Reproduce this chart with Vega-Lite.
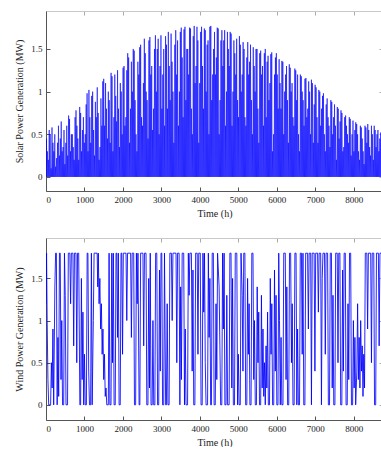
{
"$schema":"https://vega.github.io/schema/vega-lite/v6.json",
"padding":{"left":14,"top":10,"right":0,"bottom":0},
"background":"white",
"config":{"font":"Liberation Serif","view":{"stroke":null},
"axis":{"grid":false,"labelFont":"Liberation Serif","labelFontSize":9,"titleFont":"Liberation Serif","titleFontSize":10,"titleFontWeight":"normal","labelColor":"#222","titleColor":"#222","domainColor":"#555","tickColor":"#555","tickSize":-4,"labelPadding":8}},
"spacing":19,
"datasets":{
"solar":[
{"t":0,"v":0},{"t":12,"v":0.45},{"t":24,"v":0},{"t":36,"v":0.3},{"t":48,"v":0},{"t":60,"v":0.2},{"t":72,"v":0},{"t":84,"v":0.55},{"t":96,"v":0},{"t":108,"v":0.5},{"t":120,"v":0},{"t":132,"v":0.1},{"t":144,"v":0},{"t":156,"v":0.58},{"t":168,"v":0},{"t":180,"v":0.4},{"t":192,"v":0},{"t":204,"v":0.3},{"t":216,"v":0},{"t":228,"v":0.5},{"t":240,"v":0},{"t":252,"v":0.12},{"t":264,"v":0},{"t":276,"v":0.22},{"t":288,"v":0},{"t":300,"v":0.4},{"t":312,"v":0},{"t":324,"v":0.6},{"t":336,"v":0},{"t":348,"v":0.25},{"t":360,"v":0},{"t":372,"v":0.45},{"t":384,"v":0},{"t":396,"v":0.65},{"t":408,"v":0},{"t":420,"v":0.3},{"t":432,"v":0},{"t":444,"v":0.35},{"t":456,"v":0},{"t":468,"v":0.55},{"t":480,"v":0},{"t":492,"v":0.15},{"t":504,"v":0},{"t":516,"v":0.4},{"t":528,"v":0},{"t":540,"v":0.6},{"t":552,"v":0},{"t":564,"v":0.25},{"t":576,"v":0},{"t":588,"v":0.72},{"t":600,"v":0},{"t":612,"v":0.68},{"t":624,"v":0},{"t":636,"v":0.3},{"t":648,"v":0},{"t":660,"v":0.5},{"t":672,"v":0},{"t":684,"v":0.5},{"t":696,"v":0},{"t":708,"v":0.35},{"t":720,"v":0},{"t":732,"v":0.2},{"t":744,"v":0},{"t":756,"v":0.7},{"t":768,"v":0},{"t":780,"v":0.78},{"t":792,"v":0},{"t":804,"v":0.6},{"t":816,"v":0},{"t":828,"v":0.45},{"t":840,"v":0},{"t":852,"v":0.2},{"t":864,"v":0},{"t":876,"v":0.82},{"t":888,"v":0},{"t":900,"v":0.75},{"t":912,"v":0},{"t":924,"v":0.3},{"t":936,"v":0},{"t":948,"v":0.55},{"t":960,"v":0},{"t":972,"v":0.7},{"t":984,"v":0},{"t":996,"v":0.4},
{"t":1008,"v":0},{"t":1020,"v":0.5},{"t":1032,"v":0},{"t":1044,"v":0.85},{"t":1056,"v":0},{"t":1068,"v":0.98},{"t":1080,"v":0},{"t":1092,"v":0.3},{"t":1104,"v":0},{"t":1116,"v":1.02},{"t":1128,"v":0},{"t":1140,"v":0.7},{"t":1152,"v":0},{"t":1164,"v":0.4},{"t":1176,"v":0},{"t":1188,"v":0.95},{"t":1200,"v":0},{"t":1212,"v":1.0},{"t":1224,"v":0},{"t":1236,"v":0.55},{"t":1248,"v":0},{"t":1260,"v":0.25},{"t":1272,"v":0},{"t":1284,"v":0.88},{"t":1296,"v":0},{"t":1308,"v":0.7},{"t":1320,"v":0},{"t":1332,"v":1.05},{"t":1344,"v":0},{"t":1356,"v":0.75},{"t":1368,"v":0},{"t":1380,"v":0.2},{"t":1392,"v":0},{"t":1404,"v":0.35},{"t":1416,"v":0},{"t":1428,"v":0.92},{"t":1440,"v":0},{"t":1452,"v":0.6},{"t":1464,"v":0},{"t":1476,"v":1.12},{"t":1488,"v":0},{"t":1500,"v":1.15},{"t":1512,"v":0},{"t":1524,"v":0.6},{"t":1536,"v":0},{"t":1548,"v":1.1},{"t":1560,"v":0},{"t":1572,"v":0.8},{"t":1584,"v":0},{"t":1596,"v":0.45},{"t":1608,"v":0},{"t":1620,"v":1.0},{"t":1632,"v":0},{"t":1644,"v":0.9},{"t":1656,"v":0},{"t":1668,"v":0.4},{"t":1680,"v":0},{"t":1692,"v":1.22},{"t":1704,"v":0},{"t":1716,"v":1.18},{"t":1728,"v":0},{"t":1740,"v":0.3},{"t":1752,"v":0},{"t":1764,"v":0.7},{"t":1776,"v":0},{"t":1788,"v":1.2},{"t":1800,"v":0},{"t":1812,"v":0.95},{"t":1824,"v":0},{"t":1836,"v":0.65},{"t":1848,"v":0},{"t":1860,"v":1.25},{"t":1872,"v":0},{"t":1884,"v":0.8},{"t":1896,"v":0},{"t":1908,"v":0.35},{"t":1920,"v":0},{"t":1932,"v":1.1},{"t":1944,"v":0},{"t":1956,"v":1.0},{"t":1968,"v":0},{"t":1980,"v":0.5},{"t":1992,"v":0},{"t":2004,"v":1.28},
{"t":2016,"v":0},{"t":2028,"v":1.3},{"t":2040,"v":0},{"t":2052,"v":0.6},{"t":2064,"v":0},{"t":2076,"v":0.7},{"t":2088,"v":0},{"t":2100,"v":1.25},{"t":2112,"v":0},{"t":2124,"v":1.45},{"t":2136,"v":0},{"t":2148,"v":1.4},{"t":2160,"v":0},{"t":2172,"v":0.4},{"t":2184,"v":0},{"t":2196,"v":0.8},{"t":2208,"v":0},{"t":2220,"v":1.35},{"t":2232,"v":0},{"t":2244,"v":1.0},{"t":2256,"v":0},{"t":2268,"v":1.5},{"t":2280,"v":0},{"t":2292,"v":1.48},{"t":2304,"v":0},{"t":2316,"v":0.9},{"t":2328,"v":0},{"t":2340,"v":0.5},{"t":2352,"v":0},{"t":2364,"v":0.3},{"t":2376,"v":0},{"t":2388,"v":1.35},{"t":2400,"v":0},{"t":2412,"v":1.2},{"t":2424,"v":0},{"t":2436,"v":1.52},{"t":2448,"v":0},{"t":2460,"v":1.55},{"t":2472,"v":0},{"t":2484,"v":0.7},{"t":2496,"v":0},{"t":2508,"v":0.6},{"t":2520,"v":0},{"t":2532,"v":1.1},{"t":2544,"v":0},{"t":2556,"v":1.62},{"t":2568,"v":0},{"t":2580,"v":1.45},{"t":2592,"v":0},{"t":2604,"v":1.0},{"t":2616,"v":0},{"t":2628,"v":0.9},{"t":2640,"v":0},{"t":2652,"v":0.45},{"t":2664,"v":0},{"t":2676,"v":1.6},{"t":2688,"v":0},{"t":2700,"v":1.64},{"t":2712,"v":0},{"t":2724,"v":1.2},{"t":2736,"v":0},{"t":2748,"v":1.3},{"t":2760,"v":0},{"t":2772,"v":0.55},{"t":2784,"v":0},{"t":2796,"v":0.8},{"t":2808,"v":0},{"t":2820,"v":1.5},{"t":2832,"v":0},{"t":2844,"v":1.66},{"t":2856,"v":0},{"t":2868,"v":1.0},{"t":2880,"v":0},{"t":2892,"v":1.5},{"t":2904,"v":0},{"t":2916,"v":1.62},{"t":2928,"v":0},{"t":2940,"v":0.5},{"t":2952,"v":0},{"t":2964,"v":1.3},{"t":2976,"v":0},{"t":2988,"v":1.66},{"t":3000,"v":0},{"t":3012,"v":0.8},
{"t":3024,"v":0},{"t":3036,"v":1.2},{"t":3048,"v":0},{"t":3060,"v":1.5},{"t":3072,"v":0},{"t":3084,"v":0.6},{"t":3096,"v":0},{"t":3108,"v":1.65},{"t":3120,"v":0},{"t":3132,"v":1.55},{"t":3144,"v":0},{"t":3156,"v":0.8},{"t":3168,"v":0},{"t":3180,"v":1.7},{"t":3192,"v":0},{"t":3204,"v":1.3},{"t":3216,"v":0},{"t":3228,"v":0.9},{"t":3240,"v":0},{"t":3252,"v":1.68},{"t":3264,"v":0},{"t":3276,"v":1.35},{"t":3288,"v":0},{"t":3300,"v":1.0},{"t":3312,"v":0},{"t":3324,"v":0.4},{"t":3336,"v":0},{"t":3348,"v":1.55},{"t":3360,"v":0},{"t":3372,"v":1.72},{"t":3384,"v":0},{"t":3396,"v":1.2},{"t":3408,"v":0},{"t":3420,"v":1.6},{"t":3432,"v":0},{"t":3444,"v":0.6},{"t":3456,"v":0},{"t":3468,"v":1.0},{"t":3480,"v":0},{"t":3492,"v":1.7},{"t":3504,"v":0},{"t":3516,"v":1.75},{"t":3528,"v":0},{"t":3540,"v":1.4},{"t":3552,"v":0},{"t":3564,"v":0.7},{"t":3576,"v":0},{"t":3588,"v":1.73},{"t":3600,"v":0},{"t":3612,"v":1.76},{"t":3624,"v":0},{"t":3636,"v":0.9},{"t":3648,"v":0},{"t":3660,"v":1.5},{"t":3672,"v":0},{"t":3684,"v":1.5},{"t":3696,"v":0},{"t":3708,"v":1.2},{"t":3720,"v":0},{"t":3732,"v":1.75},{"t":3744,"v":0},{"t":3756,"v":1.74},{"t":3768,"v":0},{"t":3780,"v":0.8},{"t":3792,"v":0},{"t":3804,"v":0.5},{"t":3816,"v":0},{"t":3828,"v":1.65},{"t":3840,"v":0},{"t":3852,"v":1.77},{"t":3864,"v":0},{"t":3876,"v":1.1},{"t":3888,"v":0},{"t":3900,"v":1.3},{"t":3912,"v":0},{"t":3924,"v":1.76},{"t":3936,"v":0},{"t":3948,"v":1.6},{"t":3960,"v":0},{"t":3972,"v":0.4},{"t":3984,"v":0},{"t":3996,"v":1.1},{"t":4008,"v":0},{"t":4020,"v":1.7},
{"t":4032,"v":0},{"t":4044,"v":1.76},{"t":4056,"v":0},{"t":4068,"v":1.3},{"t":4080,"v":0},{"t":4092,"v":0.8},{"t":4104,"v":0},{"t":4116,"v":1.74},{"t":4128,"v":0},{"t":4140,"v":1.72},{"t":4152,"v":0},{"t":4164,"v":1.0},{"t":4176,"v":0},{"t":4188,"v":1.55},{"t":4200,"v":0},{"t":4212,"v":1.6},{"t":4224,"v":0},{"t":4236,"v":0.5},{"t":4248,"v":0},{"t":4260,"v":1.76},{"t":4272,"v":0},{"t":4284,"v":1.77},{"t":4296,"v":0},{"t":4308,"v":0.9},{"t":4320,"v":0},{"t":4332,"v":1.2},{"t":4344,"v":0},{"t":4356,"v":1.5},{"t":4368,"v":0},{"t":4380,"v":1.7},{"t":4392,"v":0},{"t":4404,"v":1.2},{"t":4416,"v":0},{"t":4428,"v":1.4},{"t":4440,"v":0},{"t":4452,"v":1.75},{"t":4464,"v":0},{"t":4476,"v":1.74},{"t":4488,"v":0},{"t":4500,"v":0.5},{"t":4512,"v":0},{"t":4524,"v":0.9},{"t":4536,"v":0},{"t":4548,"v":1.6},{"t":4560,"v":0},{"t":4572,"v":1.72},{"t":4584,"v":0},{"t":4596,"v":1.3},{"t":4608,"v":0},{"t":4620,"v":1.6},{"t":4632,"v":0},{"t":4644,"v":1.72},{"t":4656,"v":0},{"t":4668,"v":0.6},{"t":4680,"v":0},{"t":4692,"v":1.0},{"t":4704,"v":0},{"t":4716,"v":1.7},{"t":4728,"v":0},{"t":4740,"v":1.5},{"t":4752,"v":0},{"t":4764,"v":1.3},{"t":4776,"v":0},{"t":4788,"v":1.7},{"t":4800,"v":0},{"t":4812,"v":1.68},{"t":4824,"v":0},{"t":4836,"v":0.6},{"t":4848,"v":0},{"t":4860,"v":1.0},{"t":4872,"v":0},{"t":4884,"v":1.6},{"t":4896,"v":0},{"t":4908,"v":1.45},{"t":4920,"v":0},{"t":4932,"v":1.2},{"t":4944,"v":0},{"t":4956,"v":1.62},{"t":4968,"v":0},{"t":4980,"v":0.9},{"t":4992,"v":0},{"t":5004,"v":0.7},{"t":5016,"v":0},{"t":5028,"v":1.65},
{"t":5040,"v":0},{"t":5052,"v":1.55},{"t":5064,"v":0},{"t":5076,"v":1.0},{"t":5088,"v":0},{"t":5100,"v":1.2},{"t":5112,"v":0},{"t":5124,"v":1.58},{"t":5136,"v":0},{"t":5148,"v":1.5},{"t":5160,"v":0},{"t":5172,"v":0.7},{"t":5184,"v":0},{"t":5196,"v":0.6},{"t":5208,"v":0},{"t":5220,"v":1.4},{"t":5232,"v":0},{"t":5244,"v":1.58},{"t":5256,"v":0},{"t":5268,"v":1.2},{"t":5280,"v":0},{"t":5292,"v":1.35},{"t":5304,"v":0},{"t":5316,"v":1.55},{"t":5328,"v":0},{"t":5340,"v":0.9},{"t":5352,"v":0},{"t":5364,"v":0.5},{"t":5376,"v":0},{"t":5388,"v":1.52},{"t":5400,"v":0},{"t":5412,"v":1.3},{"t":5424,"v":0},{"t":5436,"v":1.0},{"t":5448,"v":0},{"t":5460,"v":1.5},{"t":5472,"v":0},{"t":5484,"v":1.5},{"t":5496,"v":0},{"t":5508,"v":0.8},{"t":5520,"v":0},{"t":5532,"v":0.4},{"t":5544,"v":0},{"t":5556,"v":1.45},{"t":5568,"v":0},{"t":5580,"v":1.48},{"t":5592,"v":0},{"t":5604,"v":1.2},{"t":5616,"v":0},{"t":5628,"v":1.3},{"t":5640,"v":0},{"t":5652,"v":0.6},{"t":5664,"v":0},{"t":5676,"v":1.45},{"t":5688,"v":0},{"t":5700,"v":1.5},{"t":5712,"v":0},{"t":5724,"v":0.7},{"t":5736,"v":0},{"t":5748,"v":1.35},{"t":5760,"v":0},{"t":5772,"v":1.42},{"t":5784,"v":0},{"t":5796,"v":0.9},{"t":5808,"v":0},{"t":5820,"v":1.1},{"t":5832,"v":0},{"t":5844,"v":1.44},{"t":5856,"v":0},{"t":5868,"v":1.46},{"t":5880,"v":0},{"t":5892,"v":0.3},{"t":5904,"v":0},{"t":5916,"v":0.5},{"t":5928,"v":0},{"t":5940,"v":1.2},{"t":5952,"v":0},{"t":5964,"v":1.4},{"t":5976,"v":0},{"t":5988,"v":1.45},{"t":6000,"v":0},{"t":6012,"v":1.2},{"t":6024,"v":0},{"t":6036,"v":0.8},
{"t":6048,"v":0},{"t":6060,"v":1.38},{"t":6072,"v":0},{"t":6084,"v":1.1},{"t":6096,"v":0},{"t":6108,"v":0.8},{"t":6120,"v":0},{"t":6132,"v":1.36},{"t":6144,"v":0},{"t":6156,"v":1.35},{"t":6168,"v":0},{"t":6180,"v":0.5},{"t":6192,"v":0},{"t":6204,"v":1.0},{"t":6216,"v":0},{"t":6228,"v":1.2},{"t":6240,"v":0},{"t":6252,"v":1.3},{"t":6264,"v":0},{"t":6276,"v":0.9},{"t":6288,"v":0},{"t":6300,"v":0.4},{"t":6312,"v":0},{"t":6324,"v":1.32},{"t":6336,"v":0},{"t":6348,"v":1.28},{"t":6360,"v":0},{"t":6372,"v":1.0},{"t":6384,"v":0},{"t":6396,"v":1.1},{"t":6408,"v":0},{"t":6420,"v":0.7},{"t":6432,"v":0},{"t":6444,"v":0.6},{"t":6456,"v":0},{"t":6468,"v":1.27},{"t":6480,"v":0},{"t":6492,"v":1.25},{"t":6504,"v":0},{"t":6516,"v":0.9},{"t":6528,"v":0},{"t":6540,"v":1.2},{"t":6552,"v":0},{"t":6564,"v":0.5},{"t":6576,"v":0},{"t":6588,"v":0.3},{"t":6600,"v":0},{"t":6612,"v":1.2},{"t":6624,"v":0},{"t":6636,"v":1.18},{"t":6648,"v":0},{"t":6660,"v":1.0},{"t":6672,"v":0},{"t":6684,"v":0.9},{"t":6696,"v":0},{"t":6708,"v":0.6},{"t":6720,"v":0},{"t":6732,"v":1.15},{"t":6744,"v":0},{"t":6756,"v":1.16},{"t":6768,"v":0},{"t":6780,"v":0.7},{"t":6792,"v":0},{"t":6804,"v":0.8},{"t":6816,"v":0},{"t":6828,"v":1.12},{"t":6840,"v":0},{"t":6852,"v":1.0},{"t":6864,"v":0},{"t":6876,"v":0.5},{"t":6888,"v":0},{"t":6900,"v":1.14},{"t":6912,"v":0},{"t":6924,"v":1.1},{"t":6936,"v":0},{"t":6948,"v":0.4},{"t":6960,"v":0},{"t":6972,"v":0.85},{"t":6984,"v":0},{"t":6996,"v":1.08},{"t":7008,"v":0},{"t":7020,"v":1.05},{"t":7032,"v":0},{"t":7044,"v":0.7},
{"t":7056,"v":0},{"t":7068,"v":0.4},{"t":7080,"v":0},{"t":7092,"v":1.02},{"t":7104,"v":0},{"t":7116,"v":1.0},{"t":7128,"v":0},{"t":7140,"v":0.6},{"t":7152,"v":0},{"t":7164,"v":0.8},{"t":7176,"v":0},{"t":7188,"v":0.95},{"t":7200,"v":0},{"t":7212,"v":0.98},{"t":7224,"v":0},{"t":7236,"v":0.5},{"t":7248,"v":0},{"t":7260,"v":0.3},{"t":7272,"v":0},{"t":7284,"v":0.85},{"t":7296,"v":0},{"t":7308,"v":0.92},{"t":7320,"v":0},{"t":7332,"v":0.7},{"t":7344,"v":0},{"t":7356,"v":0.6},{"t":7368,"v":0},{"t":7380,"v":0.35},{"t":7392,"v":0},{"t":7404,"v":0.9},{"t":7416,"v":0},{"t":7428,"v":0.88},{"t":7440,"v":0},{"t":7452,"v":0.5},{"t":7464,"v":0},{"t":7476,"v":0.7},{"t":7488,"v":0},{"t":7500,"v":0.85},{"t":7512,"v":0},{"t":7524,"v":0.6},{"t":7536,"v":0},{"t":7548,"v":0.2},{"t":7560,"v":0},{"t":7572,"v":0.82},{"t":7584,"v":0},{"t":7596,"v":0.8},{"t":7608,"v":0},{"t":7620,"v":0.45},{"t":7632,"v":0},{"t":7644,"v":0.65},{"t":7656,"v":0},{"t":7668,"v":0.78},{"t":7680,"v":0},{"t":7692,"v":0.75},{"t":7704,"v":0},{"t":7716,"v":0.3},{"t":7728,"v":0},{"t":7740,"v":0.35},{"t":7752,"v":0},{"t":7764,"v":0.7},{"t":7776,"v":0},{"t":7788,"v":0.72},{"t":7800,"v":0},{"t":7812,"v":0.6},{"t":7824,"v":0},{"t":7836,"v":0.5},{"t":7848,"v":0},{"t":7860,"v":0.4},{"t":7872,"v":0},{"t":7884,"v":0.7},{"t":7896,"v":0},{"t":7908,"v":0.68},{"t":7920,"v":0},{"t":7932,"v":0.25},{"t":7944,"v":0},{"t":7956,"v":0.5},{"t":7968,"v":0},{"t":7980,"v":0.66},{"t":7992,"v":0},{"t":8004,"v":0.3},{"t":8016,"v":0},{"t":8028,"v":0.55},{"t":8040,"v":0},{"t":8052,"v":0.64},
{"t":8064,"v":0},{"t":8076,"v":0.62},{"t":8088,"v":0},{"t":8100,"v":0.5},{"t":8112,"v":0},{"t":8124,"v":0.3},{"t":8136,"v":0},{"t":8148,"v":0.2},{"t":8160,"v":0},{"t":8172,"v":0.6},{"t":8184,"v":0},{"t":8196,"v":0.58},{"t":8208,"v":0},{"t":8220,"v":0.45},{"t":8232,"v":0},{"t":8244,"v":0.3},{"t":8256,"v":0},{"t":8268,"v":0.15},{"t":8280,"v":0},{"t":8292,"v":0.6},{"t":8304,"v":0},{"t":8316,"v":0.58},{"t":8328,"v":0},{"t":8340,"v":0.4},{"t":8352,"v":0},{"t":8364,"v":0.62},{"t":8376,"v":0},{"t":8388,"v":0.55},{"t":8400,"v":0},{"t":8412,"v":0.35},{"t":8424,"v":0},{"t":8436,"v":0.25},{"t":8448,"v":0},{"t":8460,"v":0.6},{"t":8472,"v":0},{"t":8484,"v":0.5},{"t":8496,"v":0},{"t":8508,"v":0.2},{"t":8520,"v":0},{"t":8532,"v":0.6},{"t":8544,"v":0},{"t":8556,"v":0.55},{"t":8568,"v":0},{"t":8580,"v":0.35},{"t":8592,"v":0},{"t":8604,"v":0.5},{"t":8616,"v":0},{"t":8628,"v":0.55},{"t":8640,"v":0},{"t":8652,"v":0.3},{"t":8664,"v":0},{"t":8676,"v":0.45},{"t":8688,"v":0},{"t":8700,"v":0.52},{"t":8712,"v":0},{"t":8724,"v":0.58},{"t":8736,"v":0},{"t":8748,"v":0.4},{"t":8760,"v":0}],
"wind":[{"t":0,"v":1.2},{"t":15,"v":1.8},{"t":30,"v":1.0},{"t":50,"v":0.3},{"t":70,"v":0},{"t":120,"v":0},{"t":140,"v":0.5},{"t":160,"v":0.2},{"t":180,"v":0.9},{"t":200,"v":0},{"t":230,"v":1.4},{"t":250,"v":1.8},{"t":270,"v":1.8},{"t":290,"v":0},{"t":310,"v":0.8},{"t":330,"v":0.1},{"t":350,"v":1.8},{"t":370,"v":1.8},{"t":390,"v":0.3},{"t":410,"v":1.0},{"t":430,"v":0},{"t":460,"v":0},{"t":480,"v":1.8},{"t":500,"v":1.3},{"t":520,"v":0},{"t":560,"v":0},{"t":580,"v":1.8},{"t":620,"v":1.8},{"t":640,"v":1.2},{"t":660,"v":1.8},{"t":700,"v":1.8},{"t":720,"v":0.7},{"t":740,"v":1.8},{"t":780,"v":1.8},{"t":800,"v":0.5},{"t":820,"v":1.8},{"t":850,"v":1.8},{"t":880,"v":0},{"t":900,"v":0},{"t":920,"v":1.5},{"t":940,"v":0.3},{"t":960,"v":1.1},{"t":980,"v":0},{"t":1000,"v":0.6},{"t":1020,"v":0},{"t":1050,"v":0},{"t":1070,"v":1.8},{"t":1090,"v":1.8},{"t":1110,"v":0.4},{"t":1130,"v":0},{"t":1160,"v":0},{"t":1180,"v":1.8},{"t":1200,"v":0},{"t":1230,"v":1.0},{"t":1250,"v":1.8},{"t":1330,"v":1.8},{"t":1345,"v":1.4},{"t":1360,"v":1.8},{"t":1380,"v":1.2},{"t":1400,"v":1.5},{"t":1420,"v":0.9},{"t":1440,"v":1.2},{"t":1460,"v":0.6},{"t":1480,"v":0.9},{"t":1500,"v":0.3},{"t":1520,"v":0.6},{"t":1540,"v":0.1},{"t":1560,"v":0.2},{"t":1580,"v":0},{"t":1620,"v":0},{"t":1640,"v":1.8},{"t":1660,"v":0},{"t":1690,"v":0},{"t":1710,"v":1.8},{"t":1730,"v":0.5},{"t":1750,"v":1.8},{"t":1770,"v":0},{"t":1800,"v":0},{"t":1820,"v":1.8},{"t":1840,"v":1.8},{"t":1860,"v":0.8},{"t":1880,"v":1.8},{"t":1900,"v":0},{"t":1930,"v":0},{"t":1950,"v":1.8},{"t":1970,"v":1.8},{"t":1990,"v":0.6},{"t":2010,"v":1.8},{"t":2080,"v":1.8},{"t":2100,"v":1.0},{"t":2120,"v":1.8},{"t":2200,"v":1.8},{"t":2220,"v":0.8},{"t":2240,"v":1.8},{"t":2280,"v":1.8},{"t":2300,"v":0},{"t":2330,"v":0},{"t":2350,"v":1.8},{"t":2370,"v":1.2},{"t":2390,"v":1.8},{"t":2420,"v":0},{"t":2440,"v":0},{"t":2460,"v":1.8},{"t":2520,"v":1.8},{"t":2540,"v":0.7},{"t":2560,"v":1.8},{"t":2600,"v":1.8},{"t":2620,"v":0},{"t":2650,"v":0},{"t":2670,"v":1.5},{"t":2690,"v":0.2},{"t":2710,"v":1.8},{"t":2730,"v":0},{"t":2760,"v":0},{"t":2780,"v":1.0},{"t":2800,"v":0},{"t":2830,"v":0},{"t":2850,"v":1.8},{"t":2880,"v":1.8},{"t":2900,"v":0},{"t":2930,"v":0},{"t":2950,"v":1.6},{"t":2970,"v":0.4},{"t":2990,"v":1.8},{"t":3010,"v":1.8},{"t":3030,"v":0},{"t":3060,"v":0},{"t":3080,"v":1.8},{"t":3110,"v":0},{"t":3130,"v":0},{"t":3150,"v":1.2},{"t":3170,"v":0},{"t":3200,"v":0},{"t":3220,"v":1.8},{"t":3260,"v":1.8},{"t":3280,"v":1.0},{"t":3300,"v":1.8},{"t":3380,"v":1.8},{"t":3400,"v":0.5},{"t":3420,"v":1.8},{"t":3460,"v":1.8},{"t":3480,"v":0},{"t":3500,"v":1.4},{"t":3520,"v":0.3},{"t":3540,"v":1.8},{"t":3580,"v":1.8},{"t":3600,"v":0},{"t":3620,"v":0.9},{"t":3640,"v":0},{"t":3680,"v":0},{"t":3700,"v":1.8},{"t":3720,"v":1.3},{"t":3740,"v":1.8},{"t":3780,"v":1.8},{"t":3800,"v":0.4},{"t":3820,"v":1.6},{"t":3840,"v":0},{"t":3870,"v":0},{"t":3890,"v":1.8},{"t":3930,"v":1.8},{"t":3950,"v":0.6},{"t":3970,"v":1.8},{"t":4010,"v":1.8},{"t":4030,"v":0},{"t":4060,"v":0},{"t":4080,"v":1.8},{"t":4100,"v":1.1},{"t":4120,"v":1.8},{"t":4140,"v":0.5},{"t":4160,"v":0},{"t":4200,"v":0},{"t":4220,"v":1.8},{"t":4240,"v":0.8},{"t":4260,"v":1.5},{"t":4280,"v":0},{"t":4300,"v":0},{"t":4320,"v":1.8},{"t":4350,"v":1.8},{"t":4370,"v":0},{"t":4400,"v":0},{"t":4420,"v":1.2},{"t":4440,"v":0.3},{"t":4460,"v":1.8},{"t":4500,"v":1.4},{"t":4520,"v":0.7},{"t":4540,"v":0},{"t":4570,"v":0},{"t":4590,"v":1.8},{"t":4610,"v":0.9},{"t":4630,"v":1.8},{"t":4650,"v":0},{"t":4680,"v":0},{"t":4700,"v":1.3},{"t":4720,"v":0},{"t":4760,"v":0},{"t":4780,"v":1.8},{"t":4810,"v":1.8},{"t":4830,"v":0.2},{"t":4850,"v":1.5},{"t":4870,"v":0},{"t":4900,"v":0},{"t":4920,"v":1.8},{"t":4960,"v":1.8},{"t":4980,"v":0},{"t":5000,"v":0.6},{"t":5020,"v":0},{"t":5050,"v":0},{"t":5070,"v":1.8},{"t":5100,"v":1.3},{"t":5120,"v":0.4},{"t":5140,"v":1.8},{"t":5170,"v":1.8},{"t":5190,"v":0},{"t":5220,"v":0},{"t":5240,"v":1.5},{"t":5260,"v":0.6},{"t":5280,"v":1.2},{"t":5300,"v":0},{"t":5330,"v":0},{"t":5350,"v":1.8},{"t":5380,"v":1.8},{"t":5400,"v":0.3},{"t":5420,"v":1.0},{"t":5440,"v":0},{"t":5470,"v":0},{"t":5490,"v":1.4},{"t":5510,"v":0.5},{"t":5530,"v":1.1},{"t":5550,"v":0},{"t":5580,"v":0},{"t":5600,"v":1.3},{"t":5620,"v":0.2},{"t":5640,"v":0.9},{"t":5660,"v":0.1},{"t":5680,"v":0.5},{"t":5700,"v":0},{"t":5720,"v":0.7},{"t":5740,"v":0.2},{"t":5760,"v":1.1},{"t":5780,"v":0},{"t":5810,"v":0},{"t":5830,"v":1.5},{"t":5850,"v":0.6},{"t":5870,"v":1.2},{"t":5890,"v":0},{"t":5920,"v":0},{"t":5940,"v":1.6},{"t":5960,"v":0.4},{"t":5980,"v":1.3},{"t":6000,"v":0},{"t":6030,"v":0},{"t":6050,"v":1.8},{"t":6070,"v":1.0},{"t":6090,"v":0},{"t":6110,"v":0.8},{"t":6130,"v":0},{"t":6160,"v":0},{"t":6180,"v":1.8},{"t":6220,"v":1.8},{"t":6240,"v":0.3},{"t":6260,"v":1.4},{"t":6280,"v":0},{"t":6310,"v":0},{"t":6330,"v":1.8},{"t":6360,"v":1.8},{"t":6380,"v":0.5},{"t":6400,"v":1.2},{"t":6420,"v":0},{"t":6450,"v":0},{"t":6470,"v":1.8},{"t":6500,"v":1.8},{"t":6520,"v":0},{"t":6540,"v":0.9},{"t":6560,"v":0},{"t":6590,"v":0},{"t":6610,"v":1.8},{"t":6640,"v":1.8},{"t":6660,"v":0.6},{"t":6680,"v":1.8},{"t":6700,"v":0},{"t":6730,"v":0},{"t":6750,"v":1.8},{"t":6800,"v":1.8},{"t":6820,"v":0.9},{"t":6840,"v":1.8},{"t":6880,"v":1.8},{"t":6900,"v":0},{"t":6920,"v":1.8},{"t":6970,"v":1.8},{"t":6990,"v":0.4},{"t":7010,"v":1.8},{"t":7060,"v":1.8},{"t":7080,"v":1.1},{"t":7100,"v":1.8},{"t":7140,"v":1.8},{"t":7160,"v":0},{"t":7180,"v":1.5},{"t":7200,"v":1.8},{"t":7240,"v":1.8},{"t":7260,"v":0.6},{"t":7280,"v":1.8},{"t":7320,"v":1.8},{"t":7340,"v":0},{"t":7370,"v":0},{"t":7390,"v":1.8},{"t":7420,"v":1.8},{"t":7440,"v":0.2},{"t":7460,"v":1.3},{"t":7480,"v":0},{"t":7510,"v":0},{"t":7530,"v":1.8},{"t":7570,"v":1.8},{"t":7590,"v":0.5},{"t":7610,"v":1.8},{"t":7640,"v":1.8},{"t":7660,"v":0},{"t":7690,"v":0},{"t":7710,"v":1.6},{"t":7730,"v":0.4},{"t":7750,"v":1.8},{"t":7780,"v":1.8},{"t":7800,"v":0},{"t":7830,"v":0},{"t":7850,"v":1.2},{"t":7870,"v":0.3},{"t":7890,"v":1.8},{"t":7920,"v":1.8},{"t":7940,"v":0},{"t":7970,"v":0},{"t":7990,"v":1.0},{"t":8010,"v":0.2},{"t":8030,"v":0.8},{"t":8050,"v":0},{"t":8080,"v":0.4},{"t":8100,"v":1.2},{"t":8120,"v":0.3},{"t":8140,"v":0.8},{"t":8160,"v":0.2},{"t":8180,"v":1.0},{"t":8200,"v":0.4},{"t":8220,"v":0.7},{"t":8240,"v":0.1},{"t":8260,"v":0.6},{"t":8280,"v":0.2},{"t":8300,"v":1.8},{"t":8340,"v":1.8},{"t":8360,"v":0.9},{"t":8380,"v":1.8},{"t":8440,"v":1.8},{"t":8460,"v":0.5},{"t":8480,"v":1.8},{"t":8520,"v":1.8},{"t":8540,"v":0},{"t":8570,"v":0},{"t":8590,"v":1.8},{"t":8640,"v":1.8},{"t":8660,"v":0.7},{"t":8680,"v":1.8},{"t":8720,"v":1.8},{"t":8740,"v":1.2},{"t":8760,"v":1.8}]
},
"vconcat":[
{"width":337,"height":180,
"layer":[
{"data":{"name":"solar"},"mark":{"type":"line","color":"#0000ff","strokeWidth":0.6,"clip":true},
"encoding":{"x":{"field":"t","type":"quantitative","scale":{"domain":[0,8760],"nice":false},"axis":{"values":[0,1000,2000,3000,4000,5000,6000,7000,8000],"format":"d","title":"Time (h)","titlePadding":4}},
"y":{"field":"v","type":"quantitative","scale":{"domain":[-0.165,1.945],"nice":false,"zero":false},"axis":{"values":[0,0.5,1,1.5],"format":"~g","title":"Solar Power Generation (MW)","titlePadding":6}}}},
{"data":{"values":[{"t":0,"v":0}]},"mark":{"type":"point","opacity":0},
"encoding":{"x":{"field":"t","type":"quantitative","axis":{"orient":"top","values":[0,1000,2000,3000,4000,5000,6000,7000,8000],"labels":false,"title":null,"domainColor":"#c8c8c8","tickColor":"#aaa"}},
"y":{"field":"v","type":"quantitative","axis":{"orient":"right","values":[0,0.5,1,1.5],"labels":false,"title":null,"domainColor":"#c8c8c8","tickColor":"#aaa"}}}}
],
"resolve":{"axis":{"x":"independent","y":"independent"}}},
{"width":337,"height":182,
"layer":[
{"data":{"name":"wind"},"mark":{"type":"line","color":"#0000ff","strokeWidth":0.85,"clip":true},
"encoding":{"x":{"field":"t","type":"quantitative","scale":{"domain":[0,8760],"nice":false},"axis":{"values":[0,1000,2000,3000,4000,5000,6000,7000,8000],"format":"d","title":"Time (h)","titlePadding":4}},
"y":{"field":"v","type":"quantitative","scale":{"domain":[-0.18,1.98],"nice":false,"zero":false},"axis":{"values":[0,0.5,1,1.5],"format":"~g","title":"Wind Power Generation (MW)","titlePadding":6}}}},
{"data":{"values":[{"t":0,"v":0}]},"mark":{"type":"point","opacity":0},
"encoding":{"x":{"field":"t","type":"quantitative","axis":{"orient":"top","values":[0,1000,2000,3000,4000,5000,6000,7000,8000],"labels":false,"title":null,"domainColor":"#c8c8c8","tickColor":"#aaa"}},
"y":{"field":"v","type":"quantitative","axis":{"orient":"right","values":[0,0.5,1,1.5],"labels":false,"title":null,"domainColor":"#c8c8c8","tickColor":"#aaa"}}}}
],
"resolve":{"axis":{"x":"independent","y":"independent"}}}
]
}
